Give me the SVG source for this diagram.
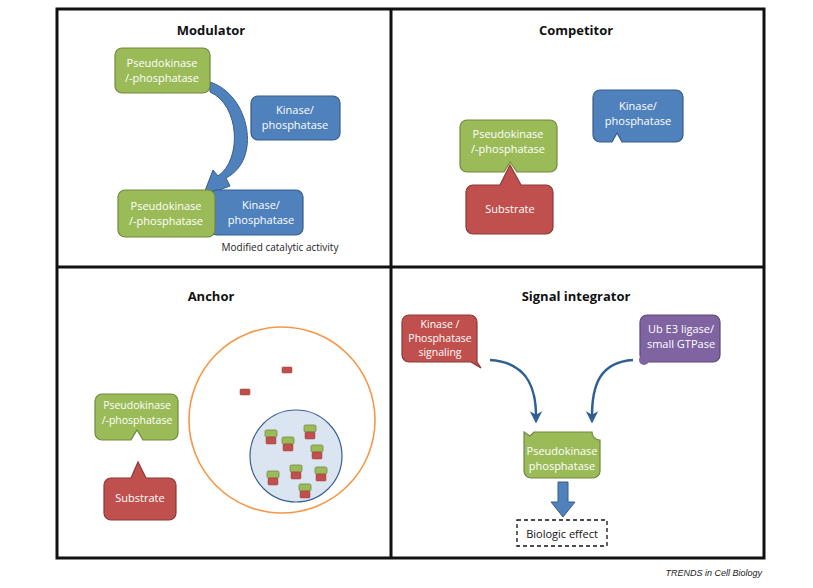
<svg xmlns="http://www.w3.org/2000/svg" width="813" height="588" viewBox="0 0 813 588">
<style>
.t{font-family:"Open Sans","Liberation Sans",sans-serif;font-size:11px;fill:#fff;text-anchor:middle}
.s{font-size:10.5px}
.h{font-family:"Open Sans","Liberation Sans",sans-serif;font-size:13px;font-weight:bold;fill:#111;text-anchor:middle}
.g{fill:#9bbb59;stroke:#71893f;stroke-width:1.2}
.b{fill:#4f81bd;stroke:#385d8a;stroke-width:1.2}
.r{fill:#c0504d;stroke:#8c3836;stroke-width:1.2}
.p{fill:#8064a2;stroke:#5c4776;stroke-width:1.2}
.sg{fill:#9bbb59;stroke:#71893f;stroke-width:.8}
.sr{fill:#c0504d;stroke:#a03c3a;stroke-width:.5}
.ar{fill:none;stroke:#2f5f93;stroke-width:2.5}
</style>
<defs>
<marker id="ah" viewBox="0 0 10 10" refX="4" refY="5" markerWidth="5" markerHeight="5" orient="auto"><path d="M0,0L10,5L0,10L3,5z" fill="#2f5f93"/></marker>
<g id="cx"><rect class="sg" x="-6" y="-4" width="12" height="7" rx="1.5"/><rect class="sr" x="-5" y="3" width="10" height="7" rx="1"/></g>
</defs>
<rect width="813" height="588" fill="#fff"/>
<g id="frame" fill="none" stroke="#111" stroke-width="3">
<rect x="57" y="9" width="707" height="549"/>
<line x1="391" y1="9" x2="391" y2="558"/>
<line x1="57" y1="267" x2="764" y2="267"/>
</g>
<text x="211" y="35" class="h">Modulator</text>
<text x="576" y="35" class="h">Competitor</text>
<text x="211" y="301" class="h">Anchor</text>
<text x="576" y="301" class="h">Signal integrator</text>
<g id="connectors">
<path d="M210,82 C250,95 262,160 226,178 L230,186 L203,196 L213,170 L218,176 C242,160 240,105 210,92 Z" fill="#4f81bd" stroke="#385d8a" stroke-width="1"/>
<path class="ar" d="M490,360 C525,362 536,385 536,416" marker-end="url(#ah)"/>
<path class="ar" d="M633,360 C600,362 592,385 592,416" marker-end="url(#ah)"/>
<path d="M558,482 h10 v20 h7 l-12,15 l-12,-15 h7 z" fill="#4f81bd" stroke="#385d8a" stroke-width="1"/>
</g>
<g id="mod-pk1"><rect class="g" x="115" y="48" width="95" height="45" rx="7"/><text class="t" x="162" y="67">Pseudokinase</text><text class="t" x="162" y="82">/-phosphatase</text></g>
<g id="mod-k1"><rect class="b" x="251" y="96" width="89" height="44" rx="7"/><text class="t" x="295" y="114">Kinase/</text><text class="t" x="295" y="129">phosphatase</text></g>
<g id="mod-k2"><rect class="b" x="210" y="190" width="93" height="45" rx="7"/><text class="t" x="261" y="209">Kinase/</text><text class="t" x="261" y="224">phosphatase</text></g>
<g id="mod-pk2"><rect class="g" x="118" y="190" width="97" height="47" rx="7"/><text class="t" x="166" y="210">Pseudokinase</text><text class="t" x="166" y="225">/-phosphatase</text></g>
<text x="280" y="251" style="font-family:'Open Sans','Liberation Sans',sans-serif;font-size:10px;fill:#222" text-anchor="middle">Modified catalytic activity</text>
<g id="comp-pk"><path class="g" d="M467,120 h83 a7,7 0 0 1 7,7 v38 a7,7 0 0 1 -7,7 h-33 l-7,-10 l-6,10 h-37 a7,7 0 0 1 -7,-7 v-38 a7,7 0 0 1 7,-7z"/><text class="t" x="508" y="138">Pseudokinase</text><text class="t" x="508" y="153">/-phosphatase</text></g>
<g id="comp-sub"><path class="r" d="M473,185 h27 l10,-20 l11,20 h25 a7,7 0 0 1 7,7 v35 a7,7 0 0 1 -7,7 h-73 a7,7 0 0 1 -7,-7 v-35 a7,7 0 0 1 7,-7z"/><text class="t" x="510" y="213">Substrate</text></g>
<g id="comp-k"><path class="b" d="M600,90 h76 a7,7 0 0 1 7,7 v38 a7,7 0 0 1 -7,7 h-54 l-5,-9 l-5,9 h-12 a7,7 0 0 1 -7,-7 v-38 a7,7 0 0 1 7,-7z"/><text class="t" x="638" y="110">Kinase/</text><text class="t" x="638" y="125">phosphatase</text></g>
<g id="anc-pk"><path class="g" d="M102,394 h69 a7,7 0 0 1 7,7 v32 a7,7 0 0 1 -7,7 h-28 l-6,-10 l-6,10 h-29 a7,7 0 0 1 -7,-7 v-32 a7,7 0 0 1 7,-7z"/><text class="t s" x="137" y="409">Pseudokinase</text><text class="t s" x="137" y="424">/-phosphatase</text></g>
<g id="anc-sub"><path class="r" d="M111,478 h20 l7,-16 l8,16 h23 a7,7 0 0 1 7,7 v28 a7,7 0 0 1 -7,7 h-58 a7,7 0 0 1 -7,-7 v-28 a7,7 0 0 1 7,-7z"/><text class="t" x="140" y="502">Substrate</text></g>
<g id="anc-cell">
<circle cx="282" cy="420" r="93" fill="none" stroke="#f79646" stroke-width="1.6"/>
<circle cx="296" cy="456" r="46" fill="#dbe5f1" stroke="#386294" stroke-width="1.2"/>
<rect class="sr" x="282" y="367" width="10" height="6" rx="1"/>
<rect class="sr" x="240" y="389" width="10" height="6" rx="1"/>
<use href="#cx" x="271" y="434"/><use href="#cx" x="288" y="441"/><use href="#cx" x="310" y="429"/><use href="#cx" x="317" y="449"/>
<use href="#cx" x="273" y="475"/><use href="#cx" x="296" y="469"/><use href="#cx" x="321" y="471"/><use href="#cx" x="305" y="488"/>
</g>
<g id="si-kin"><path class="r" d="M409,315 h61 a7,7 0 0 1 7,7 v40 l4,6 l-10,-6 h-62 a7,7 0 0 1 -7,-7 v-33 a7,7 0 0 1 7,-7z"/><text class="t s" x="440" y="328">Kinase /</text><text class="t s" x="440" y="342">Phosphatase</text><text class="t s" x="440" y="356">signaling</text></g>
<g id="si-ub"><rect class="p" x="640" y="315" width="80" height="47" rx="7"/><circle cx="644" cy="360" r="5" fill="#8064a2"/><text class="t" x="681" y="333">Ub E3 ligase/</text><text class="t" x="681" y="348">small GTPase</text></g>
<g id="si-pk"><path class="g" d="M524,432 l6,4 l4,-4 h58 a8,8 0 0 0 8,8 v31 a7,7 0 0 1 -7,7 h-62 a7,7 0 0 1 -7,-7 z"/><text class="t" x="562" y="455">Pseudokinase</text><text class="t" x="562" y="470">phosphatase</text></g>
<g id="si-eff"><rect x="517" y="520" width="90" height="26" fill="#fff" stroke="#111" stroke-width="1.3" stroke-dasharray="4,3"/><text x="562" y="538" style="font-family:'Open Sans','Liberation Sans',sans-serif;font-size:11px;fill:#111" text-anchor="middle">Biologic effect</text></g>
<text x="762" y="576" style="font-family:'Liberation Sans',sans-serif;font-size:9px;font-style:italic;fill:#222" text-anchor="end">TRENDS in Cell Biology</text>
</svg>
